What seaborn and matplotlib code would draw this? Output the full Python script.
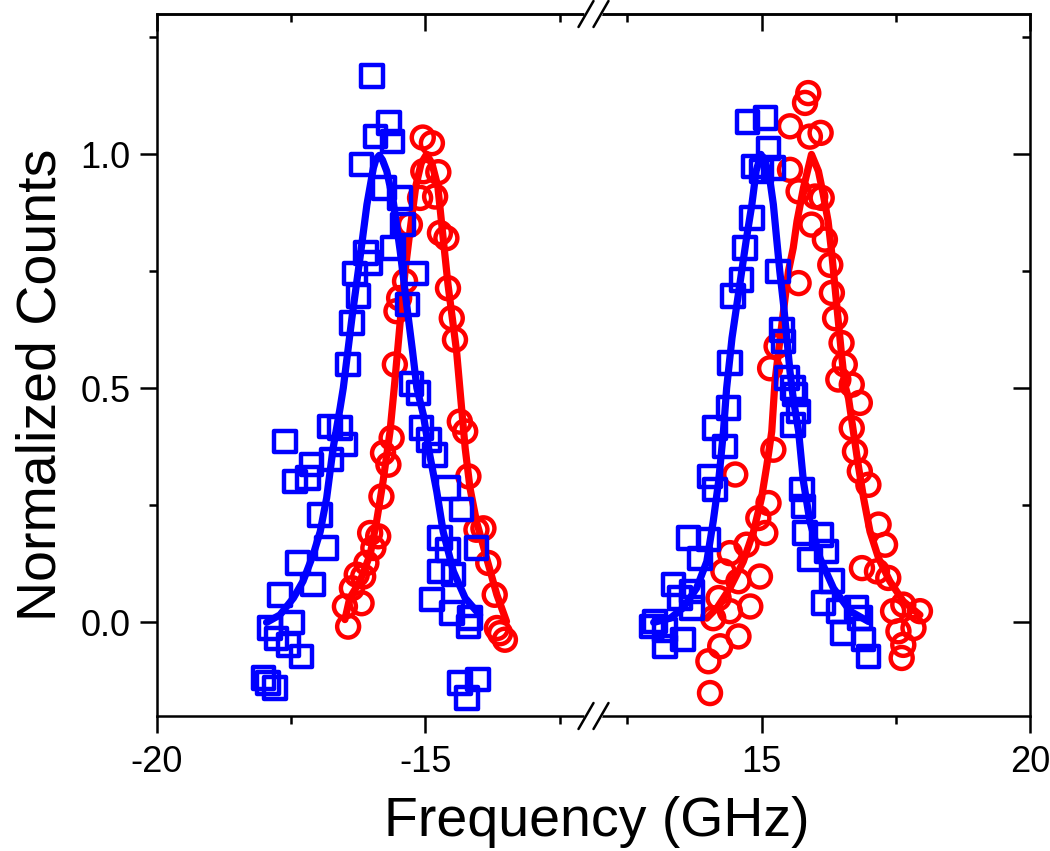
import numpy as np
import pandas as pd
import seaborn as sns
import matplotlib.pyplot as plt
from matplotlib.lines import Line2D

# ---- data ----
# negative-detuning peak (left panel)
neg_sq_x = [-16.00, -15.68, -15.93, -15.61, -16.19, -15.77, -15.47, -15.42, -15.60, -16.11,
            -16.03, -16.31, -15.18, -16.25, -15.33, -16.37, -16.44, -15.26, -15.13, -16.78,
            -16.59, -16.50, -17.62, -17.12, -16.75, -17.43, -17.19, -16.96, -16.84, -17.37,
            -17.09, -17.71, -17.90, -17.49, -17.77, -17.55, -17.31, -18.02, -17.93, -17.80,
            -15.07, -14.93, -14.82, -14.58, -14.33, -14.73, -14.58, -14.05, -14.73, -14.48,
            -14.88, -14.51, -14.17, -14.20, -14.36, -14.02, -14.23]
neg_sq_y = [1.167, 1.067, 1.038, 1.028, 0.978, 0.928, 0.907, 0.850, 0.800, 0.789,
            0.768, 0.746, 0.746, 0.697, 0.679, 0.640, 0.551, 0.509, 0.490, 0.419,
            0.415, 0.380, 0.387, 0.337, 0.348, 0.301, 0.308, 0.230, 0.159, 0.127,
            0.081, 0.059, -0.012, 0.000, -0.034, -0.048, -0.073, -0.119, -0.130, -0.140,
            0.415, 0.390, 0.358, 0.287, 0.241, 0.180, 0.155, 0.159, 0.109, 0.102,
            0.049, 0.020, 0.009, -0.009, -0.130, -0.122, -0.162]

neg_ci_x = [-15.05, -14.88, -15.04, -14.76, -15.10, -14.82, -15.29, -14.73, -14.61, -14.58,
            -14.51, -14.45, -15.38, -15.49, -15.54, -15.57, -15.63, -15.79, -15.69, -15.82,
            -16.03, -15.88, -15.97, -16.10, -16.28, -16.16, -16.37, -16.50, -16.19, -16.44,
            -14.36, -14.26, -14.20, -14.05, -13.92, -13.83, -13.71, -13.67, -13.52, -13.61]
neg_ci_y = [1.036, 1.024, 0.964, 0.962, 0.907, 0.910, 0.850, 0.832, 0.821, 0.714,
            0.650, 0.604, 0.729, 0.693, 0.665, 0.551, 0.394, 0.362, 0.337, 0.269,
            0.191, 0.184, 0.159, 0.127, 0.102, 0.098, 0.073, 0.034, 0.041, -0.009,
            0.429, 0.408, 0.312, 0.198, 0.201, 0.127, 0.059, -0.012, -0.037, -0.023]

neg_sq_fit_x = [-17.96, -17.71, -17.46, -17.28, -17.09, -16.96, -16.84, -16.72, -16.59, -16.53,
                -16.37, -16.22, -16.09, -15.97, -15.92, -15.86, -15.80, -15.72, -15.60, -15.47,
                -15.35, -15.24, -15.16, -15.04, -14.92, -14.79, -14.67, -14.48, -14.26, -13.99]
neg_sq_fit_y = [0.000, 0.016, 0.052, 0.088, 0.145, 0.194, 0.266, 0.372, 0.458, 0.501,
                0.650, 0.778, 0.893, 0.971, 0.990, 0.998, 0.988, 0.964, 0.900, 0.793,
                0.679, 0.579, 0.501, 0.444, 0.358, 0.280, 0.194, 0.109, 0.052, 0.016]

neg_ci_fit_x = [-16.50, -16.41, -16.22, -16.03, -15.91, -15.79, -15.66, -15.57, -15.47, -15.38,
                -15.29, -15.18, -15.08, -14.98, -14.88, -14.77, -14.67, -14.58, -14.42, -14.36,
                -14.26, -14.17, -14.05, -13.86, -13.67, -13.49]
neg_ci_fit_y = [0.006, 0.052, 0.088, 0.145, 0.216, 0.301, 0.408, 0.515, 0.643, 0.750,
                0.835, 0.932, 0.981, 1.000, 0.981, 0.932, 0.821, 0.722, 0.579, 0.501,
                0.372, 0.287, 0.216, 0.137, 0.059, 0.002]

# positive-detuning peak (right panel)
pos_sq_x = [14.74, 15.07, 15.13, 14.85, 15.22, 15.00, 14.82, 14.69, 14.63, 14.47,
            15.31, 15.38, 15.41, 14.41, 15.47, 15.59, 14.38, 14.13, 14.32, 14.04,
            14.13, 13.64, 14.01, 13.85, 13.36, 13.70, 13.48, 13.70, 13.02, 13.20,
            13.20, 13.54, 12.96, 15.62, 15.69, 15.59, 15.75, 15.78, 15.81, 16.12,
            15.90, 16.21, 16.31, 16.15, 16.43, 16.77, 16.83, 16.52, 16.90, 16.99]
pos_sq_y = [1.069, 1.078, 1.013, 0.974, 0.971, 0.964, 0.864, 0.800, 0.732, 0.697,
            0.750, 0.625, 0.600, 0.554, 0.522, 0.501, 0.458, 0.415, 0.376, 0.312,
            0.284, 0.180, 0.177, 0.137, 0.081, 0.066, 0.052, 0.031, 0.002, -0.016,
            -0.051, -0.037, -0.009, 0.487, 0.451, 0.422, 0.284, 0.248, 0.191, 0.187,
            0.134, 0.152, 0.088, 0.041, 0.024, 0.031, 0.009, -0.023, -0.037, -0.073]

pos_ci_x = [15.87, 15.81, 15.53, 15.90, 16.10, 15.53, 15.69, 16.00, 16.12, 15.93,
            16.18, 16.28, 15.69, 16.31, 16.37, 16.49, 16.55, 15.28, 15.16, 16.43,
            16.68, 16.83, 16.68, 16.74, 16.83, 16.99, 17.18, 17.30, 16.87, 17.15,
            17.36, 17.45, 17.64, 17.95, 17.55, 17.83, 17.64, 17.61, 15.22, 14.51,
            15.13, 14.94, 15.07, 14.72, 14.41, 14.97, 14.29, 14.57, 14.20, 14.79,
            14.41, 14.10, 14.57, 14.23, 14.01, 14.04]
pos_ci_y = [1.131, 1.110, 1.060, 1.038, 1.046, 0.967, 0.921, 0.910, 0.907, 0.850,
            0.818, 0.764, 0.725, 0.704, 0.650, 0.597, 0.551, 0.590, 0.543, 0.519,
            0.508, 0.469, 0.415, 0.365, 0.323, 0.294, 0.209, 0.166, 0.116, 0.109,
            0.095, 0.024, 0.038, 0.024, -0.019, -0.012, -0.048, -0.076, 0.369, 0.316,
            0.255, 0.223, 0.191, 0.166, 0.148, 0.098, 0.109, 0.088, 0.052, 0.034,
            0.024, 0.009, -0.030, -0.051, -0.083, -0.151]

pos_sq_fit_x = [12.99, 13.30, 13.54, 13.79, 13.98, 14.10, 14.20, 14.29, 14.35, 14.45,
                14.54, 14.63, 14.72, 14.82, 14.90, 14.99, 15.08, 15.15, 15.22, 15.28,
                15.34, 15.41, 15.47, 15.53, 15.59, 15.69, 15.78, 15.90, 16.09, 16.34,
                16.65, 16.99]
pos_sq_fit_y = [0.000, 0.009, 0.031, 0.073, 0.130, 0.216, 0.301, 0.408, 0.501, 0.608,
                0.679, 0.750, 0.821, 0.893, 0.965, 1.000, 0.980, 0.950, 0.893, 0.821,
                0.750, 0.679, 0.608, 0.536, 0.479, 0.408, 0.301, 0.216, 0.137, 0.073,
                0.024, 0.002]

pos_ci_fit_x = [13.98, 14.17, 14.41, 14.66, 14.85, 15.00, 15.10, 15.19, 15.25, 15.36,
                15.50, 15.59, 15.66, 15.78, 15.93, 16.06, 16.15, 16.24, 16.31, 16.37,
                16.43, 16.49, 16.55, 16.62, 16.71, 16.80, 16.90, 17.02, 17.18, 17.39,
                17.64, 17.95]
pos_ci_fit_y = [0.009, 0.031, 0.073, 0.130, 0.194, 0.266, 0.337, 0.408, 0.515, 0.620,
                0.750, 0.800, 0.857, 0.928, 1.000, 0.964, 0.914, 0.857, 0.786, 0.714,
                0.643, 0.572, 0.508, 0.479, 0.408, 0.337, 0.266, 0.194, 0.137, 0.088,
                0.045, 0.016]

yticks = [0.0, 0.5, 1.0]
ytick_labels = ['0.0', '0.5', '1.0']

# ---- style ----
sns.set_style("ticks")
plt.rcParams['font.family'] = ['Liberation Sans', 'DejaVu Sans']
plt.rcParams['axes.unicode_minus'] = False
plt.rcParams['text.color'] = 'black'
plt.rcParams['axes.labelcolor'] = 'black'
plt.rcParams['axes.edgecolor'] = 'black'
plt.rcParams['xtick.color'] = 'black'
plt.rcParams['ytick.color'] = 'black'

W, H = 1050, 851
fig = plt.figure(figsize=(W / 100, H / 100), dpi=100)
L, R, T, B = 157, 1030, 14, 716
mid = (L + R) / 2
axl = fig.add_axes([L / W, 1 - B / H, (mid - L) / W, (B - T) / H])
axr = fig.add_axes([mid / W, 1 - B / H, (R - mid) / W, (B - T) / H])

blue = '#0000ff'
red = '#ff0000'


def draw(ax, sx, sy, cx, cy, sfx, sfy, cfx, cfy):
    sns.scatterplot(x=cx, y=cy, ax=ax, marker='o', s=250, facecolor='none',
                    edgecolor=red, linewidth=3.2, zorder=2)
    sns.lineplot(x=cfx, y=cfy, ax=ax, color=red, linewidth=5.2, estimator=None,
                 sort=False, zorder=3, solid_joinstyle='round', solid_capstyle='round')
    sns.scatterplot(x=sx, y=sy, ax=ax, marker='s', s=240, facecolor='none',
                    edgecolor=blue, linewidth=3.2, zorder=4)
    sns.lineplot(x=sfx, y=sfy, ax=ax, color=blue, linewidth=5.2, estimator=None,
                 sort=False, zorder=5, solid_joinstyle='round', solid_capstyle='round')


draw(axl, neg_sq_x, neg_sq_y, neg_ci_x, neg_ci_y,
     neg_sq_fit_x, neg_sq_fit_y, neg_ci_fit_x, neg_ci_fit_y)
draw(axr, pos_sq_x, pos_sq_y, pos_ci_x, pos_ci_y,
     pos_sq_fit_x, pos_sq_fit_y, pos_ci_fit_x, pos_ci_fit_y)

axl.set_xlim(-20, -11.87)
axr.set_xlim(11.87, 20)
for ax in (axl, axr):
    ax.set_ylim(-0.2, 1.3)
    ax.set_xlabel('')
    ax.set_ylabel('')
    for sp in ax.spines.values():
        sp.set_linewidth(1.8)
        sp.set_color('black')
        sp.set_visible(True)

axl.spines['right'].set_visible(False)
axr.spines['left'].set_visible(False)

axl.set_xticks([-20, -15])
axl.set_xticks([-17.5, -12.5], minor=True)
axr.set_xticks([15, 20])
axr.set_xticks([12.5, 17.5], minor=True)

axl.set_yticks(yticks)
axl.set_yticklabels(ytick_labels)
axl.set_yticks([0.25, 0.75, 1.25], minor=True)
axr.set_yticks(yticks)
axr.set_yticks([0.25, 0.75, 1.25], minor=True)
axr.yaxis.tick_right()

for ax in (axl, axr):
    ax.tick_params(axis='both', which='major', length=12, width=1.8, labelsize=26,
                   colors='black')
    ax.tick_params(axis='both', which='minor', length=6, width=1.8, colors='black')
    ax.tick_params(axis='x', which='both', direction='out', bottom=True, top=False, pad=9)

axl.tick_params(axis='y', which='both', direction='out', left=True, right=False, pad=7)
axr.tick_params(axis='y', which='both', direction='in', left=False, right=True,
                labelright=False, labelleft=False)

# inward ticks along the top edge
for ax, maj, mnr in ((axl, [-20, -15], [-17.5, -12.5]), (axr, [15, 20], [12.5, 17.5])):
    top = ax.secondary_xaxis('top')
    top.set_xticks(maj)
    top.set_xticks(mnr, minor=True)
    top.tick_params(which='major', direction='in', length=12, width=1.8, labeltop=False,
                    colors='black')
    top.tick_params(which='minor', direction='in', length=6, width=1.8, colors='black')
    top.spines['top'].set_linewidth(1.8)
    top.spines['top'].set_color('black')

axl.set_ylabel('Normalized Counts', fontsize=40, va='center')
axl.yaxis.set_label_coords((42 - L) / (mid - L), (B - 385) / (B - T))
fig.text(597 / W, 1 - 822 / H, 'Frequency (GHz)', fontsize=40, ha='center', va='center')


# axis break marks
def fx(px):
    return px / W


def fy(py):
    return 1 - py / H


for sy in (T, B):
    fig.add_artist(Line2D([fx(587), fx(600)], [fy(sy), fy(sy)], color='white', lw=4,
                          transform=fig.transFigure, zorder=5))
    for cx in (586, 601):
        fig.add_artist(Line2D([fx(cx - 7.5), fx(cx + 7.5)], [fy(sy + 13), fy(sy - 13)],
                              color='black', lw=1.8, transform=fig.transFigure, zorder=6))

fig.savefig('out.png', dpi=100)
